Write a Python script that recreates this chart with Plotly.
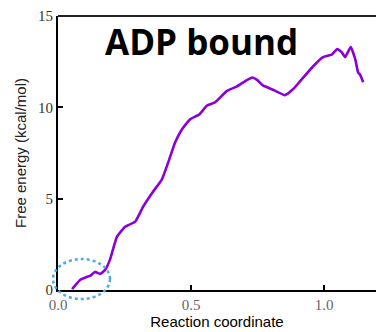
import plotly.graph_objects as go

# Data
reaction_coord = [0.053, 0.083, 0.105, 0.12, 0.139, 0.158, 0.177, 0.195, 0.221, 0.252,
                  0.29, 0.32, 0.357, 0.39, 0.414, 0.44, 0.466, 0.496, 0.53, 0.56,
                  0.59, 0.635, 0.673, 0.70, 0.73, 0.748, 0.77, 0.81, 0.853, 0.884,
                  0.91, 0.959, 0.996, 1.03, 1.049, 1.067, 1.079, 1.10, 1.117, 1.128,
                  1.135, 1.147]
free_energy = [0.05, 0.55, 0.7, 0.77, 0.99, 0.88, 1.1, 1.65, 2.9, 3.46,
               3.74, 4.56, 5.38, 6.04, 6.98, 8.07, 8.8, 9.34, 9.6, 10.1,
               10.27, 10.9, 11.15, 11.4, 11.63, 11.5, 11.2, 10.95, 10.67, 11.0,
               11.43, 12.25, 12.75, 12.9, 13.19, 13.0, 12.75, 13.3, 12.64, 11.9,
               11.8, 11.37]
x_ticks = [0.0, 0.5, 1.0]
x_tick_labels = ["0.0", "0.5", "1.0"]
y_ticks = [0, 5, 10, 15]
y_tick_labels = ["0", "5", "10", "15"]

fig = go.Figure()
fig.add_trace(go.Scatter(
    x=reaction_coord, y=free_energy, mode="lines",
    line=dict(color="#8a00d6", width=2.6, shape="spline", smoothing=0.4),
    cliponaxis=False, hoverinfo="skip", showlegend=False,
))

fig.update_layout(
    width=376, height=332,
    margin=dict(l=58, r=0, t=16, b=42),
    paper_bgcolor="white", plot_bgcolor="white",
    showlegend=False,
    xaxis=dict(
        range=[0, 1.195], tickvals=x_ticks, ticktext=x_tick_labels,
        showgrid=False, zeroline=False,
        showline=True, linecolor="black", linewidth=2,
        ticks="inside", ticklen=5, tickwidth=1.5, tickcolor="black",
        tickfont=dict(family="Liberation Serif", size=15, color="#666666"),
        title=dict(text="Reaction coordinate", standoff=4,
                   font=dict(family="Liberation Sans", size=15, color="black")),
    ),
    yaxis=dict(
        range=[0, 15], tickvals=y_ticks, ticktext=y_tick_labels,
        showgrid=False, zeroline=False,
        showline=True, linecolor="black", linewidth=2,
        ticks="inside", ticklen=5, tickwidth=1.5, tickcolor="black",
        tickfont=dict(family="Liberation Serif", size=15, color="#333333"),
        title=dict(text="Free energy (kcal/mol)", standoff=8,
                   font=dict(family="Liberation Sans", size=15, color="#222222")),
    ),
    shapes=[
        dict(type="line", xref="paper", yref="paper", x0=0, x1=1, y0=1, y1=1,
             line=dict(color="#222222", width=2)),
        dict(type="circle", xref="paper", yref="paper",
             x0=-0.0157, x1=0.1635, y0=-0.033, y1=0.113,
             line=dict(color="#4fa8f0", width=2.5, dash="dot")),
    ],
    annotations=[
        dict(text="<b>ADP bound</b>", xref="paper", yref="paper",
             x=(201 - 58) / 318, y=(290 - 41) / 274, xanchor="center", yanchor="middle",
             showarrow=False,
             font=dict(family="Open Sans", size=35, color="black")),
    ],
)

fig.write_html("out.html")
